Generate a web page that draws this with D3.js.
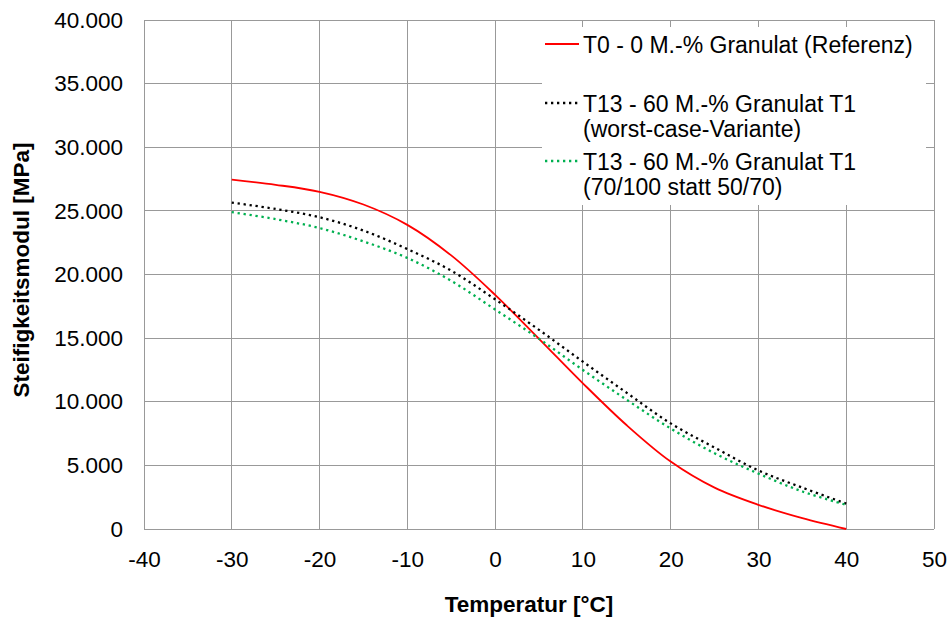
<!DOCTYPE html>
<html>
<head>
<meta charset="utf-8">
<script src="https://cdn.jsdelivr.net/npm/d3@7"></script>
<style>
  html, body { margin: 0; padding: 0; background: #fff; }
  svg text { font-family: "Liberation Sans", Arial, sans-serif; fill: #000; }
</style>
</head>
<body>
<svg id="chart" width="950" height="617"></svg>
<script>
// Temperatures in °C where the stiffness modulus is given
const temperatures = [-30, -25, -20, -15, -10, -5, 0, 5, 10, 15, 20, 25, 30, 35, 40];

// Steifigkeitsmodul in MPa for each mixture
const t0Reference   = [27450, 27050, 26500, 25500, 23900, 21500, 18400, 14950, 11450, 8150, 5300, 3250, 1900, 850, 0];
const t13WorstCase  = [25650, 25150, 24500, 23450, 22000, 20300, 18050, 15650, 13150, 10700, 8300, 6400, 4600, 3250, 2000];
const t13Binder     = [24900, 24350, 23650, 22600, 21300, 19500, 17250, 14950, 12500, 10150, 7900, 5950, 4350, 2950, 1900];

// Axis ticks
const xTicks = [-40, -30, -20, -10, 0, 10, 20, 30, 40, 50];
const yTicks = [0, 5000, 10000, 15000, 20000, 25000, 30000, 35000, 40000];

// Legend entries (label lines)
const seriesLabels = [
  ["T0 - 0 M.-% Granulat (Referenz)"],
  ["T13 - 60 M.-% Granulat T1", "(worst-case-Variante)"],
  ["T13 - 60 M.-% Granulat T1", "(70/100 statt 50/70)"]
];

const series = [
  { values: t0Reference,  color: "#ff0000", dash: null,      width: 1.8 },
  { values: t13WorstCase, color: "#000000", dash: "2.3 3.7", width: 2.3 },
  { values: t13Binder,    color: "#00b050", dash: "2.3 3.7", width: 2.3 }
];

const svg = d3.select("#chart");
const plot = { left: 144, top: 20, right: 934, bottom: 529 };

const x = d3.scaleLinear().domain([-40, 50]).range([plot.left, plot.right]);
const y = d3.scaleLinear().domain([0, 40000]).range([plot.bottom, plot.top]);

const de = d3.formatLocale({ decimal: ",", thousands: ".", grouping: [3], currency: ["", " €"], minus: "-" });
const fmtY = de.format(",.0f");
const fmtX = de.format("d");

const gridColor = "#999999";

// Gridlines
const grid = svg.append("g").attr("shape-rendering", "crispEdges");
grid.selectAll("line.v").data(xTicks).join("line")
  .attr("x1", d => x(d)).attr("x2", d => x(d))
  .attr("y1", plot.top).attr("y2", plot.bottom)
  .attr("stroke", gridColor).attr("stroke-width", 1);
grid.selectAll("line.h").data(yTicks).join("line")
  .attr("x1", plot.left).attr("x2", plot.right)
  .attr("y1", d => y(d)).attr("y2", d => y(d))
  .attr("stroke", gridColor).attr("stroke-width", 1);

// Axes (labels only; the frame comes from the grid)
const yAxis = svg.append("g")
  .attr("transform", `translate(${plot.left},0)`)
  .call(d3.axisLeft(y).tickValues(yTicks).tickFormat(fmtY).tickSize(0).tickPadding(21));
yAxis.select(".domain").remove();
yAxis.selectAll("text").style("font-size", "22.5px").attr("fill", "#000");

const xAxis = svg.append("g")
  .attr("transform", `translate(0,${plot.bottom})`)
  .call(d3.axisBottom(x).tickValues(xTicks).tickFormat(fmtX).tickSize(0).tickPadding(22));
xAxis.select(".domain").remove();
xAxis.selectAll("text").style("font-size", "22.5px").attr("fill", "#000");

// Series lines
const line = d3.line()
  .x((d, i) => x(temperatures[i]))
  .y(d => y(d))
  .curve(d3.curveCatmullRom.alpha(0.5));

series.forEach(s => {
  svg.append("path")
    .datum(s.values)
    .attr("d", line)
    .attr("fill", "none")
    .attr("stroke", s.color)
    .attr("stroke-width", s.width)
    .attr("stroke-dasharray", s.dash);
});

// Legend
const legend = svg.append("g");
legend.append("rect")
  .attr("x", 542).attr("y", 27).attr("width", 384).attr("height", 178)
  .attr("fill", "#fff");

const entryBaselines = [53, 112, 170];
series.forEach((s, i) => {
  const base = entryBaselines[i];
  legend.append("line")
    .attr("x1", 545).attr("x2", 579)
    .attr("y1", base - 9).attr("y2", base - 9)
    .attr("stroke", s.color)
    .attr("stroke-width", s.width)
    .attr("stroke-dasharray", s.dash);
  seriesLabels[i].forEach((t, j) => {
    legend.append("text")
      .attr("x", 583).attr("y", base + j * 25)
      .style("font-size", "23px")
      .text(t);
  });
});

// Axis titles
svg.append("text")
  .attr("x", 529).attr("y", 612)
  .attr("text-anchor", "middle")
  .style("font-size", "22.5px").style("font-weight", "bold")
  .text("Temperatur [°C]");

svg.append("text")
  .attr("transform", "translate(29,270) rotate(-90)")
  .attr("text-anchor", "middle")
  .style("font-size", "22.5px").style("font-weight", "bold")
  .text("Steifigkeitsmodul [MPa]");
</script>
</body>
</html>
